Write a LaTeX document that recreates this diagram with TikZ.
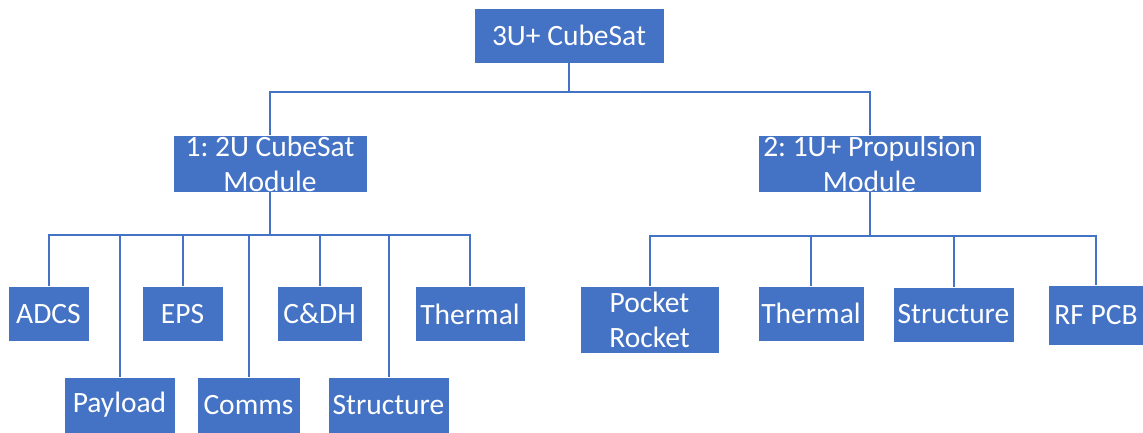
\documentclass[tikz,border=0pt]{standalone}
\usepackage{fontspec}
\setmainfont{Carlito}
\frenchspacing
\definecolor{BoxBlue}{HTML}{4472C4}
\tikzset{
  unit/.style={fill=BoxBlue,draw=white,line width=0.8pt,text=white,inner sep=0pt,
    align=center,font=\fontsize{29.5}{35}\selectfont},
  link/.style={draw=BoxBlue,line width=2pt},
}

\begin{document}
\begin{tikzpicture}[x=1pt,y=-1pt]
  \useasboundingbox (0,0) rectangle (1143,432);
  % top and modules
  \node[unit,minimum width=190,minimum height=55] (sat) at (569,35.5) {3U+ CubeSat};
  \node[unit,minimum width=194,minimum height=57] (modA) at (270,163.5) {1: 2U CubeSat\\Module};
  \node[unit,minimum width=223,minimum height=57] (modB) at (869.5,163.5) {2: 1U+ Propulsion\\Module};
  % subsystems
  \foreach \id/\cx/\cy/\w/\h/\txt in {adcs/48.5/314/81/55/ADCS, payload/119.5/405/111/56/Payload,
      eps/182.5/314/81/55/EPS, comms/248.5/405/103/56/Comms, cdh/319.5/314/85/55/C\&DH,
      structA/388.5/405/121/56/Structure, thermA/470/314/110/55/Thermal,
      rocket/649.5/319.5/139/67/Pocket\\Rocket, thermB/811/313.5/106/55/Thermal,
      structB/953.5/314.5/121/55/Structure, rfpcb/1096/315/96/60/RF PCB} {
    \node[unit,minimum width=\w,minimum height=\h] (\id) at (\cx,\cy) {\txt};
  }
  % connectors
  \coordinate (busTop) at (569,92);
  \coordinate (busA) at (270,235);
  \coordinate (busB) at (869.5,236);
  \draw[link] (sat.south) -- (busTop);
  \draw[link] (modA.north) |- (busTop) -| (modB.north);
  \draw[link] (modA.south) -- (busA);
  \draw[link] (adcs.north) |- (busA) -| (thermA.north);
  \foreach \n in {payload,eps,comms,cdh,structA} {
    \draw[link] (\n.north) -- (\n.north |- busA);
  }
  \draw[link] (modB.south) -- (busB);
  \draw[link] (rocket.north) |- (busB) -| (rfpcb.north);
  \foreach \n in {thermB,structB} {
    \draw[link] (\n.north) -- (\n.north |- busB);
  }
\end{tikzpicture}
\end{document}
